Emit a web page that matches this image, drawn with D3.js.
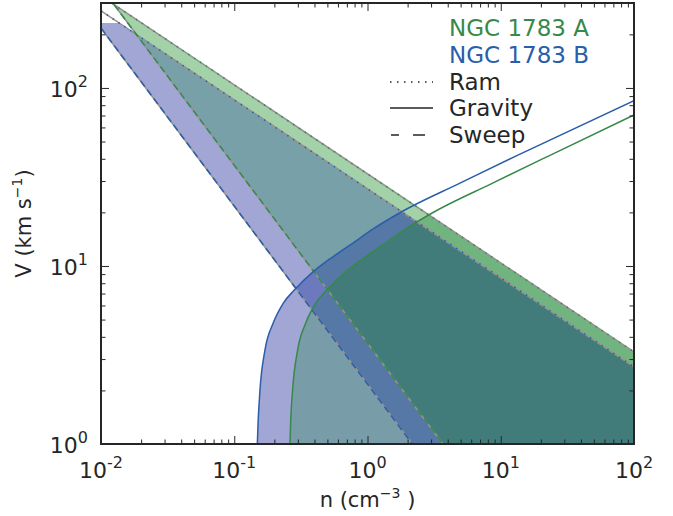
<!DOCTYPE html>
<html>
<head>
<meta charset="utf-8">
<script src="https://cdn.jsdelivr.net/npm/d3@7"></script>
<style>
body { margin: 0; background: #fff; }
text { font-family: "DejaVu Sans", sans-serif; fill: #262626; }
</style>
</head>
<body>
<svg id="chart" width="673" height="516"></svg>
<script>
// ---- data ----
const nTicks = [1e-2, 1e-1, 1e0, 1e1, 1e2];
const nExp = ["-2", "-1", "0", "1", "2"];
const vTicks = [1e0, 1e1, 1e2];
const vExp = ["0", "1", "2"];

// ram (dotted) and sweep (dashed): straight in log-log, two end points each
const ramA_n = [0.01, 100], ramA_v = [329, 3.29];
const ramB_n = [0.01, 100], ramB_v = [271, 2.71];
const sweepA_n = [0.01, 3.68], sweepA_v = [368, 1];
const sweepB_n = [0.01, 2.17], sweepB_v = [217, 1];

// gravity (solid)
const gravB_n = [0.149, 0.151, 0.156, 0.170, 0.196, 0.233, 0.286, 0.392, 0.553, 0.782, 1.11, 1.75, 4.94, 13.2, 100];
const gravB_v = [1.00, 1.32, 2.01, 3.37, 4.78, 6.17, 7.40, 9.29, 11.3, 13.5, 16.2, 19.9, 29.2, 41.7, 84.9];
const gravA_n = [0.262, 0.265, 0.274, 0.299, 0.344, 0.409, 0.502, 0.689, 0.973, 1.37, 1.95, 3.08, 8.69, 23.2, 100];
const gravA_v = [1.00, 1.32, 2.01, 3.37, 4.78, 6.17, 7.40, 9.29, 11.3, 13.5, 16.2, 19.9, 29.2, 41.7, 70.5];

const colA = "#37894a", colB = "#2a5daa";

// ---- layout ----
const x = d3.scaleLog().domain([1e-2, 1e2]).range([101, 634]);
const y = d3.scaleLog().domain([1, 300]).range([444, 3]);
const [x0, x1] = x.range();
const [y0, y1] = y.range();

const svg = d3.select("#chart");
const defs = svg.append("defs");

const zip = (a, b) => a.map((d, i) => [d, b[i]]);
const line = d3.line().x(d => x(d[0])).y(d => y(d[1]));
const gravLine = d3.line().x(d => x(d[0])).y(d => y(d[1])).curve(d3.curveMonotoneX);
const gravArea = d3.area().x(d => x(d[0])).y0(y0 + 5).y1(d => y(d[1])).curve(d3.curveMonotoneX);
const pts = p => p.map(d => d.join(",")).join(" ");

defs.append("clipPath").attr("id", "plot")
    .append("rect").attr("x", x0).attr("y", y1).attr("width", x1 - x0).attr("height", y0 - y1);

function underRam(id, ns, vs) {
    defs.append("clipPath").attr("id", id).append("polygon")
        .attr("points", pts([[x(ns[0]), y(vs[0])], [x(ns[1]), y(vs[1])], [x1 + 5, y0 + 5], [x0 - 5, y0 + 5]]));
}
function aboveSweep(id, ns, vs) {
    const a = [x(ns[0]), y(vs[0])], b = [x(ns[1]), y(vs[1])];
    defs.append("clipPath").attr("id", id).append("polygon")
        .attr("points", pts([a, b, [x1 + 5, b[1] + 5], [x1 + 5, a[1] - 5], [a[0] - 5, a[1] - 5]]));
}
function underGrav(id, ns, vs) {
    defs.append("clipPath").attr("id", id).append("path").attr("d", gravArea(zip(ns, vs)));
}
underRam("ramA", ramA_n, ramA_v);
underRam("ramB", ramB_n, ramB_v);
aboveSweep("swA", sweepA_n, sweepA_v);
aboveSweep("swB", sweepB_n, sweepB_v);
underGrav("grA", gravA_n, gravA_v);
underGrav("grB", gravB_n, gravB_v);

// regions: between sweep and ram (S), below gravity and ram (Y)
const SA = ["ramA", "swA"], YA = ["ramA", "grA"];
const SB = ["ramB", "swB"], YB = ["ramB", "grB"];

const plot = svg.append("g").attr("clip-path", "url(#plot)");

// paint each overlap with the colour it shows in the picture
function paint(clips, color) {
    let g = plot;
    [...new Set(clips)].forEach(c => { g = g.append("g").attr("clip-path", `url(#${c})`); });
    g.append("rect").attr("x", x0).attr("y", y1).attr("width", x1 - x0).attr("height", y0 - y1)
        .attr("fill", color);
}
paint(SB, "#a2a6d4");
paint(YB, "#a2a6d4");
paint(SA, "#a3d1a8");
paint([...SA, ...YA], "#72b47f");
paint([...SB, ...YB], "#6c79bc");
paint([...SA, ...SB], "#77a0a8");
paint([...YA, ...YB], "#789da8");
paint([...SA, ...SB, ...YB], "#5578a6");
paint([...SB, ...YA, ...YB], "#5578a6");
paint([...SA, ...SB, ...YA, ...YB], "#417c7a");

// gray fill edges along ram / sweep
[[ramA_n, ramA_v], [ramB_n, ramB_v], [sweepA_n, sweepA_v], [sweepB_n, sweepB_v]].forEach(([ns, vs]) => {
    plot.append("path").attr("d", line(zip(ns, vs)))
        .attr("fill", "none").attr("stroke", "#939393").attr("stroke-width", 1.6);
});

// lines
plot.append("path").attr("d", line(zip(ramA_n, ramA_v)))
    .attr("fill", "none").attr("stroke", colA).attr("stroke-width", 1.5).attr("stroke-dasharray", "1.5,5.5");
plot.append("path").attr("d", line(zip(ramB_n, ramB_v)))
    .attr("fill", "none").attr("stroke", colB).attr("stroke-width", 1.5).attr("stroke-dasharray", "1.5,5.5");
plot.append("path").attr("d", line(zip(sweepA_n, sweepA_v)))
    .attr("fill", "none").attr("stroke", colA).attr("stroke-width", 1.5).attr("stroke-dasharray", "7,4");
plot.append("path").attr("d", line(zip(sweepB_n, sweepB_v)))
    .attr("fill", "none").attr("stroke", colB).attr("stroke-width", 1.5).attr("stroke-dasharray", "7,4");
plot.append("path").attr("d", gravLine(zip(gravA_n, gravA_v)))
    .attr("fill", "none").attr("stroke", colA).attr("stroke-width", 1.5);
plot.append("path").attr("d", gravLine(zip(gravB_n, gravB_v)))
    .attr("fill", "none").attr("stroke", colB).attr("stroke-width", 1.5);

// ---- axes: inward ticks on all four sides ----
const minorN = [], minorV = [];
for (let e = -2; e < 2; e++) for (let k = 2; k <= 9; k++) minorN.push(k * Math.pow(10, e));
for (let e = 0; e < 3; e++) for (let k = 2; k <= 9; k++) if (k * Math.pow(10, e) <= 300) minorV.push(k * Math.pow(10, e));

function ticks(axis, pos, vals, size) {
    svg.append("g").attr("transform", pos)
        .call(axis.tickValues(vals).tickSize(size).tickFormat(""))
        .call(g => g.select(".domain").remove())
        .call(g => g.selectAll("line").attr("stroke", "#262626").attr("stroke-width", 1));
}
ticks(d3.axisBottom(x), `translate(0,${y0})`, nTicks, -8);
ticks(d3.axisBottom(x), `translate(0,${y0})`, minorN, -4.5);
ticks(d3.axisTop(x), `translate(0,${y1})`, nTicks, -8);
ticks(d3.axisTop(x), `translate(0,${y1})`, minorN, -4.5);
ticks(d3.axisLeft(y), `translate(${x0},0)`, vTicks, -8);
ticks(d3.axisLeft(y), `translate(${x0},0)`, minorV, -4.5);
ticks(d3.axisRight(y), `translate(${x1},0)`, vTicks, -8);
ticks(d3.axisRight(y), `translate(${x1},0)`, minorV, -4.5);

svg.append("rect").attr("x", x0).attr("y", y1).attr("width", x1 - x0).attr("height", y0 - y1)
    .attr("fill", "none").attr("stroke", "#262626").attr("stroke-width", 2);

// tick labels
nTicks.forEach((v, i) => {
    const t = svg.append("text").attr("x", x(v)).attr("y", 478)
        .attr("text-anchor", "middle").attr("font-size", 22).text("10");
    t.append("tspan").attr("dy", -10).attr("font-size", 16).text(nExp[i]);
});
vTicks.forEach((v, i) => {
    const t = svg.append("text").attr("x", 88).attr("y", y(v) + 9)
        .attr("text-anchor", "end").attr("font-size", 22).text("10");
    t.append("tspan").attr("dy", -10).attr("font-size", 16).text(vExp[i]);
});

// axis labels
const xl = svg.append("text").attr("x", (x0 + x1) / 2).attr("y", 507)
    .attr("text-anchor", "middle").attr("font-size", 21).text("n (cm");
xl.append("tspan").attr("dy", -9).attr("font-size", 14).text("\u22123");
xl.append("tspan").attr("dy", 9).text(" )");

const yl = svg.append("text")
    .attr("transform", `translate(31,${(y0 + y1) / 2}) rotate(-90)`)
    .attr("text-anchor", "middle").attr("font-size", 21).text("V (km s");
yl.append("tspan").attr("dy", -9).attr("font-size", 14).text("\u22121");
yl.append("tspan").attr("dy", 9).text(")");

// ---- legend ----
const legendX = 449;
const legendRows = [
    {label: "NGC 1783 A", color: colA, base: 36},
    {label: "NGC 1783 B", color: colB, base: 63},
    {label: "Ram", color: "#262626", base: 90, dash: "1.5,5.5", span: [390, 433]},
    {label: "Gravity", color: "#262626", base: 116, dash: null, span: [390, 433]},
    {label: "Sweep", color: "#262626", base: 143, dash: "8,14,12", span: [391, 425]},
];
legendRows.forEach(r => {
    svg.append("text").attr("x", legendX).attr("y", r.base)
        .attr("font-size", 23).style("fill", r.color).text(r.label);
    if (r.span) {
        svg.append("line").attr("x1", r.span[0]).attr("x2", r.span[1])
            .attr("y1", r.base - 8).attr("y2", r.base - 8)
            .attr("stroke", r.color).attr("stroke-width", 1.5)
            .attr("stroke-dasharray", r.dash);
    }
});
</script>
</body>
</html>
